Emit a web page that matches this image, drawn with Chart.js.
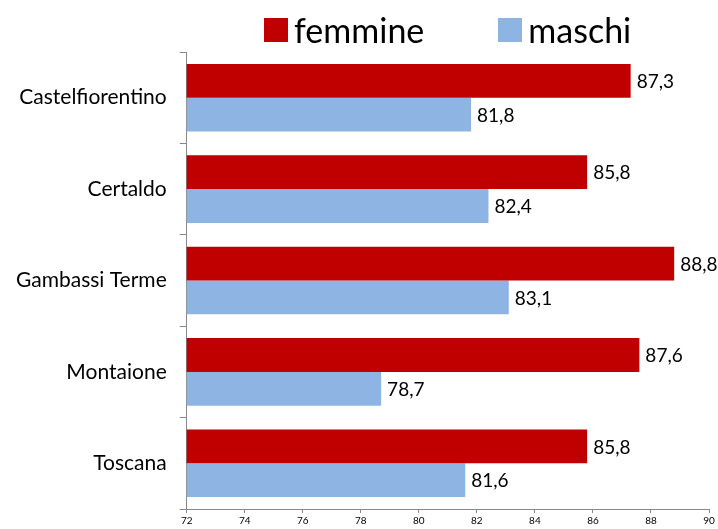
<!DOCTYPE html>
<html>
<head>
<meta charset="utf-8">
<script src="https://cdn.jsdelivr.net/npm/chart.js@4"></script>
<style>
  html, body { margin: 0; padding: 0; background: #fff; }
  #wrap { position: relative; width: 718px; height: 529px; overflow: hidden; }
  #legend {
    position: absolute; top: 12px; left: 264px;
    display: flex; align-items: center;
    font-family: Lato, "Open Sans", sans-serif; font-size: 34px; color: #000;
  }
</style>
</head>
<body>
<div id="wrap">
  <div id="legend"></div>
  <canvas id="chart" width="718" height="529"></canvas>
</div>
<script>
// dati
const comuni = ['Castelfiorentino', 'Certaldo', 'Gambassi Terme', 'Montaione', 'Toscana'];
const femmine = [87.3, 85.8, 88.8, 87.6, 85.8];
const maschi = [81.8, 82.4, 83.1, 78.7, 81.6];
const seriesNames = ['femmine', 'maschi'];
const colori = ['#C00000', '#8EB4E3'];
const xMin = 72, xMax = 90, xStep = 2;

const FONT = 'Lato, "Open Sans", sans-serif';

// legenda in html
function creaLegenda(id, nomi, colors) {
  const box = document.getElementById(id);
  box.innerHTML = '';
  nomi.forEach((nome, i) => {
    const item = document.createElement('div');
    item.style.display = 'flex';
    item.style.alignItems = 'center';
    if (i < nomi.length - 1) item.style.marginRight = '74px';

    const quad = document.createElement('span');
    quad.style.display = 'inline-block';
    quad.style.width = '24px';
    quad.style.height = '24px';
    quad.style.marginRight = '6px';
    quad.style.backgroundColor = colors[i];

    const txt = document.createElement('span');
    txt.textContent = nome;
    txt.style.lineHeight = '36px';

    item.appendChild(quad);
    item.appendChild(txt);
    box.appendChild(item);
  });
}

// etichette con il valore a fine barra
const valueLabels = {
  id: 'valueLabels',
  afterDatasetsDraw(chart) {
    const ctx = chart.ctx;
    ctx.save();
    ctx.font = '19px ' + FONT;
    ctx.fillStyle = '#000';
    ctx.textBaseline = 'middle';
    ctx.textAlign = 'left';
    chart.data.datasets.forEach((ds, i) => {
      chart.getDatasetMeta(i).data.forEach((bar, j) => {
        const txt = ds.data[j].toFixed(1).replace('.', ',');
        ctx.fillText(txt, bar.x + 6, bar.y + 1);
      });
    });
    ctx.restore();
  }
};

creaLegenda('legend', seriesNames, colori);

new Chart(document.getElementById('chart').getContext('2d'), {
  type: 'bar',
  data: {
    labels: comuni,
    datasets: [
      { label: seriesNames[0], data: femmine, backgroundColor: colori[0] },
      { label: seriesNames[1], data: maschi, backgroundColor: colori[1] },
    ],
  },
  options: {
    indexAxis: 'y',
    responsive: false,
    animation: false,
    categoryPercentage: 0.74,
    barPercentage: 1,
    layout: { padding: { top: 52, right: 9, left: 3, bottom: 0 } },
    plugins: {
      legend: { display: false }, // legenda fatta a mano sopra
      tooltip: { enabled: false },
    },
    scales: {
      x: {
        min: xMin,
        max: xMax,
        ticks: { stepSize: xStep, color: '#000', font: { size: 10, family: FONT }, padding: 2, maxRotation: 0 },
        grid: { drawOnChartArea: false, tickLength: 4, color: '#888' },
        border: { color: '#888' },
      },
      y: {
        // lineHeight basso: evita che chart.js riservi spazio sotto l'asse
        ticks: { color: '#000', font: { size: 21, family: FONT, lineHeight: 0.2 }, padding: 13 },
        grid: { offset: true, drawOnChartArea: false, tickLength: 7, color: '#888' },
        border: { color: '#888' },
      },
    },
  },
  plugins: [valueLabels],
});
</script>
</body>
</html>
